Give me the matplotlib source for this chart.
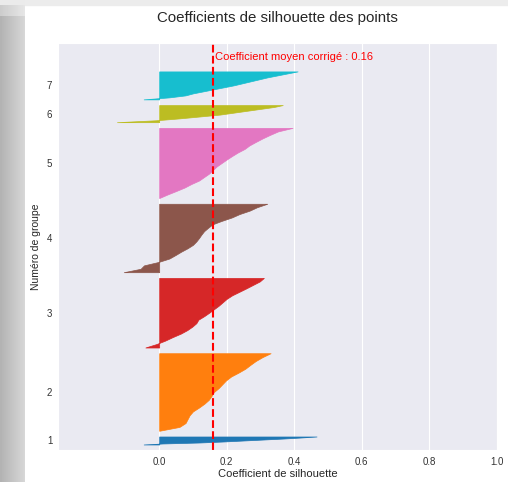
import numpy as np
import matplotlib.pyplot as plt
import seaborn as sns

# Groupes, effectifs et couleurs
groupes = [1, 2, 3, 4, 5, 6, 7]
effectifs = [14, 136, 122, 120, 123, 30, 49]
couleurs = ['#1f77b4', '#ff7f0e', '#d62728', '#8c564b', '#e377c2', '#bcbd22', '#17becf']

# Coefficients de silhouette triés (du bas vers le haut de chaque groupe)
sil_1 = [-0.046, 0.01, 0.12, 0.19, 0.25, 0.31, 0.37, 0.42, 0.466]
sil_2 = [0.0, 0.06, 0.078, 0.084, 0.09, 0.10, 0.118, 0.134, 0.147, 0.155, 0.162,
         0.176, 0.187, 0.198, 0.213, 0.235, 0.255, 0.27, 0.286, 0.306, 0.33]
sil_3 = [-0.041, -0.008, 0.018, 0.04, 0.064, 0.083, 0.098, 0.11, 0.116, 0.133, 0.148,
         0.162, 0.176, 0.188, 0.20, 0.216, 0.237, 0.258, 0.278, 0.298, 0.31]
sil_4 = [-0.105, -0.055, -0.045, -0.002, 0.03, 0.048, 0.065, 0.084, 0.10, 0.11, 0.118,
         0.125, 0.133, 0.145, 0.158, 0.185, 0.215, 0.238, 0.268, 0.29, 0.32]
sil_5 = [0.0, 0.024, 0.05, 0.075, 0.095, 0.118, 0.133, 0.148, 0.159, 0.17, 0.185,
         0.20, 0.216, 0.233, 0.253, 0.267, 0.286, 0.306, 0.328, 0.352, 0.395]
sil_6 = [-0.125, -0.01, 0.06, 0.12, 0.18, 0.22, 0.26, 0.30, 0.34, 0.366]
sil_7 = [-0.046, 0.03, 0.078, 0.10, 0.13, 0.16, 0.19, 0.22, 0.245, 0.27, 0.295,
         0.32, 0.35, 0.38, 0.41]
silhouettes = [sil_1, sil_2, sil_3, sil_4, sil_5, sil_6, sil_7]

coef_moyen = 0.16
xticks = [0.0, 0.2, 0.4, 0.6, 0.8, 1.0]

sns.set_style('darkgrid')
plt.rcParams['font.family'] = ['Liberation Sans', 'DejaVu Sans']

fig = plt.figure(figsize=(5.08, 4.82), dpi=100)

# bande grise a gauche
bande = fig.add_axes([0, 0, 25 / 508, 1])
grad = np.tile(np.linspace(0.70, 0.84, 25), (482, 1))
grad[:16] = np.linspace(0.80, 0.90, 25)
grad[:5] = 0.92
bande.imshow(grad, cmap='gray', vmin=0, vmax=1, aspect='auto', interpolation='nearest')
bande.axis('off')
fig.patches.append(plt.Rectangle((0, 1 - 5 / 482), 1, 5 / 482, color='#ececec',
                                 transform=fig.transFigure, zorder=-1))

ax = fig.add_axes([0.114, 0.066, 0.864, 0.845])

y_lower = 10
positions = []
for n, vals, c in zip(effectifs, silhouettes, couleurs):
    vals = np.sort(vals)
    y = np.linspace(y_lower, y_lower + n, len(vals))
    ax.fill_betweenx(y, 0, vals, facecolor=c, edgecolor=c, lw=0.5)
    positions.append(y_lower + n / 2)
    y_lower += n + 10

ax.axvline(coef_moyen, color='red', ls='--', lw=1.5)
ax.text(coef_moyen + 0.005, 0.966, 'Coefficient moyen corrigé : %.2f' % coef_moyen,
        color='red', fontsize=8, va='center', transform=ax.get_xaxis_transform())

ax.set_xlim(-0.3, 1.0)
ax.set_ylim(0, y_lower + 40)
ax.set_xticks(xticks)
ax.set_yticks(positions)
ax.set_yticklabels([str(g) for g in groupes])
ax.yaxis.grid(False)
ax.tick_params(axis='both', labelsize=7, colors='#333333', length=0)
ax.tick_params(axis='x', pad=5)
ax.tick_params(axis='y', pad=4)
ax.set_xlabel('Coefficient de silhouette', fontsize=8, labelpad=1, color='#262626')
ax.set_ylabel('Numéro de groupe', fontsize=7.5, labelpad=4, color='#262626')
ax.set_title('Coefficients de silhouette des points', fontsize=10.8, pad=15, color='#262626')

fig.savefig('out.png', dpi=100)
